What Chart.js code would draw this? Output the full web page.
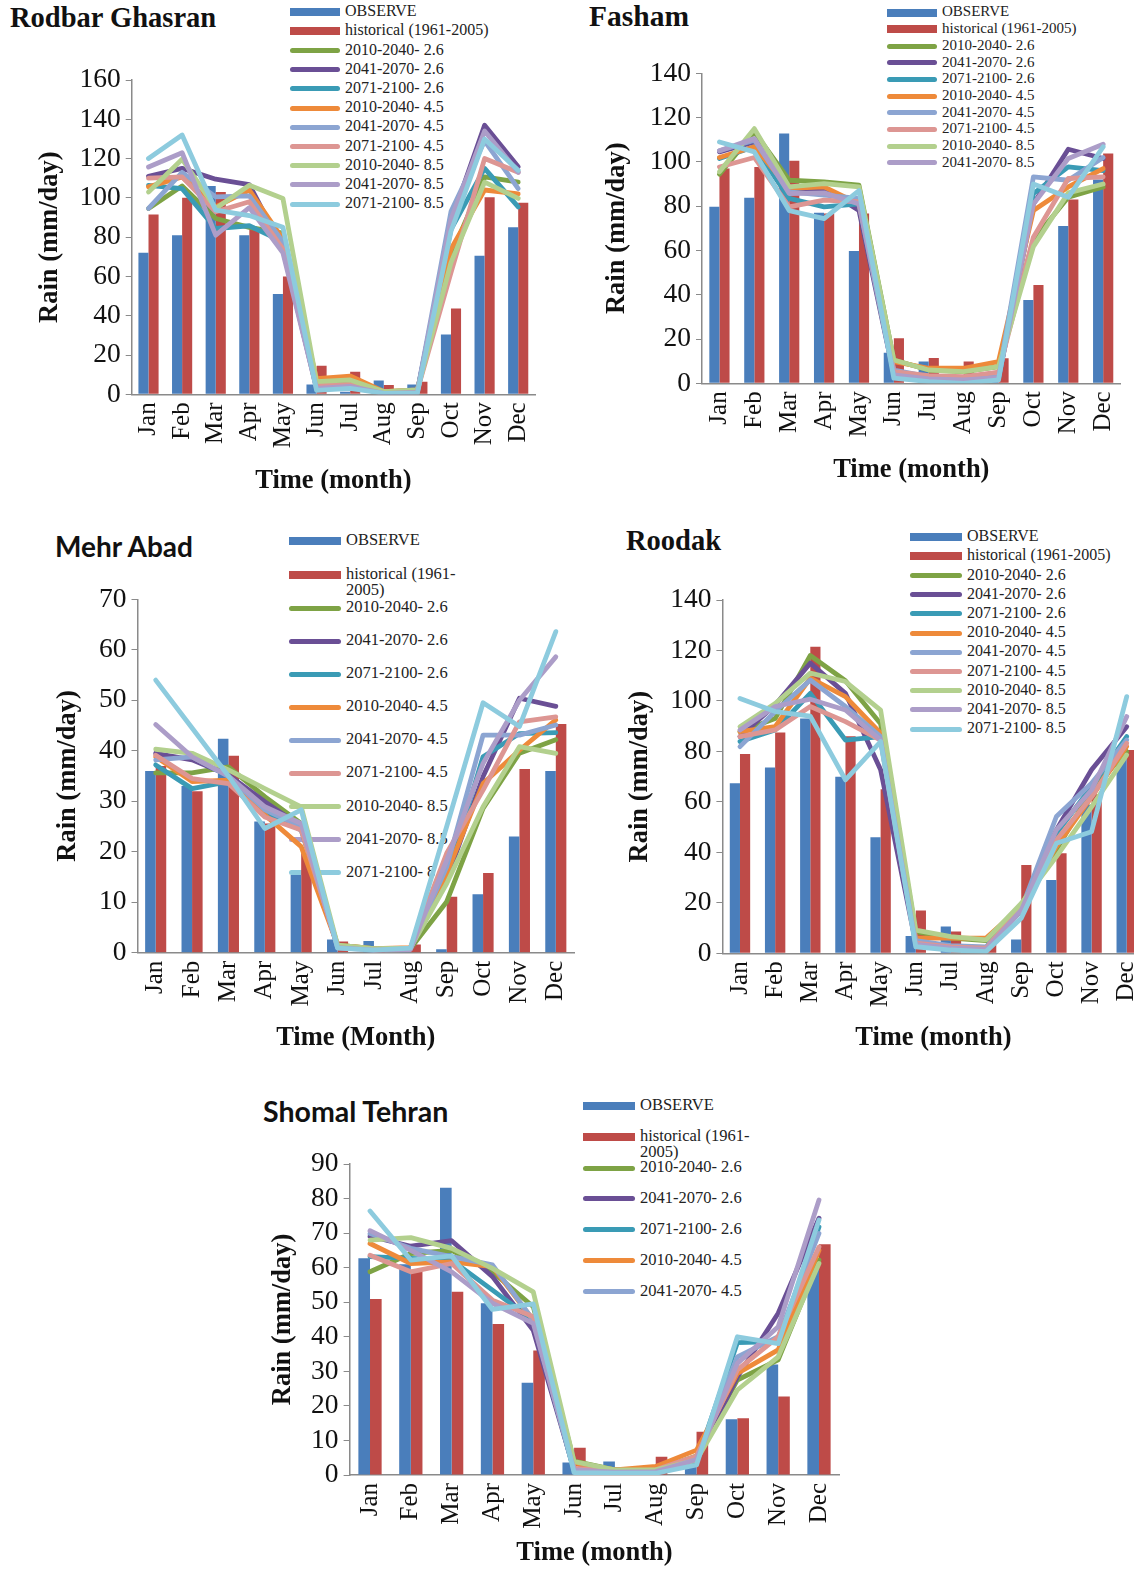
<!DOCTYPE html>
<html>
<head>
<meta charset="utf-8">
<script src="https://cdn.jsdelivr.net/npm/chart.js@4.4.1/dist/chart.umd.min.js"></script>
<style>
  html, body { margin: 0; padding: 0; background: #fff; }
  body { position: relative; width: 1134px; height: 1574px; overflow: hidden; }
  .ttl { position: absolute; font-weight: bold; line-height: 1; white-space: nowrap; color: #111; }
  .lg-sw { position: absolute; }
  .lg-tx { position: absolute; font-family: 'Liberation Serif', serif; color: #222; white-space: nowrap; }
  canvas { position: absolute; }
</style>
</head>
<body>
<script>
// ---- data ----
var months = ['Jan', 'Feb', 'Mar', 'Apr', 'May', 'Jun', 'Jul', 'Aug', 'Sep', 'Oct', 'Nov', 'Dec'];
var seriesNames = ['OBSERVE', 'historical (1961-2005)',
  '2010-2040- 2.6', '2041-2070- 2.6', '2071-2100- 2.6',
  '2010-2040- 4.5', '2041-2070- 4.5', '2071-2100- 4.5',
  '2010-2040- 8.5', '2041-2070- 8.5', '2071-2100- 8.5'];

// Rodbar Ghasran
var rodbarObs  = [72, 81, 106, 81, 51, 5, 1.3, 7, 5, 30.5, 70.5, 85];
var rodbarHist = [91.5, 100, 103, 84.5, 60, 14.5, 11.5, 4.7, 6.4, 43.7, 100.3, 97.5];
var rodbarProj = [
  [94.6, 106, 89.5, 85, 82, 5.6, 5.6, 1.4, 2, 71, 110.7, 108],
  [111, 115, 109.5, 106.8, 74, 3, 3.5, 1, 1.5, 88, 137, 115.8],
  [106.4, 104.7, 84.4, 85.8, 77.6, 4, 4, 1, 1.5, 84, 115, 95.4],
  [105.6, 110.7, 95.4, 104, 79, 8, 9.3, 1.4, 2.2, 74, 104, 102],
  [94.6, 113, 100.5, 101, 77.6, 4, 4.5, 1, 1.5, 93, 129, 104.7],
  [110, 110.7, 92.9, 98, 74, 4.5, 5, 1.2, 2, 62, 120, 113],
  [103, 119.7, 94.6, 106.4, 99.7, 6.4, 7.3, 1.4, 2.2, 67, 108, 99.7],
  [115.7, 123, 81, 95, 72, 3, 4, 0.5, 1, 89, 134, 113],
  [120, 132, 93.7, 91, 85, 2, 3, 0.5, 0.5, 83, 130, 114]
];

// Fasham
var fashamObs  = [79.7, 83.8, 112.8, 77, 59.7, 13.8, 9.8, 0.8, 1, 37.6, 71, 92];
var fashamHist = [97, 97.7, 100.5, 76.7, 76.7, 20.3, 11.4, 9.8, 11.3, 44.4, 83, 103.8];
var fashamProj = [
  [94.4, 113.5, 91.7, 91, 89.5, 10.5, 6, 5.3, 7.5, 64.7, 84, 88.7],
  [104.5, 109, 87, 88, 78, 3.8, 2, 1.5, 2, 81, 105.7, 101.5],
  [101.5, 106.8, 83.5, 79.7, 81, 4, 2, 1.5, 2, 85.7, 97.7, 96],
  [102, 106.8, 88, 88.7, 81, 9.8, 6.8, 6.8, 9.8, 78, 88.7, 97],
  [105, 109.8, 86.5, 85, 83.5, 6, 3, 2.5, 3, 93.2, 91.7, 102],
  [97.7, 102, 79.7, 82.7, 82, 5.3, 3.5, 3, 5, 66, 92.5, 93.2],
  [95.5, 115, 88.7, 90.2, 88.7, 10.5, 6, 5.3, 7.5, 61.7, 86, 90],
  [105, 110.5, 85.7, 86, 81, 3.8, 2, 1.5, 2.5, 81, 101.5, 108],
  [109, 104.5, 78, 74.4, 87, 2.3, 0.8, 0, 1.5, 90, 84, 106.8]
];

// Mehr Abad
var mehrObs  = [36, 33, 42.4, 26, 15.4, 2.6, 2.3, 0.2, 0.7, 11.6, 23, 36];
var mehrHist = [37, 32, 39, 25.6, 19.7, 2.2, 0.5, 1.6, 11.1, 15.8, 36.4, 45.3];
var mehrProj = [
  [35.6, 35.6, 36.8, 30.9, 25.6, 1.5, 0.8, 0.8, 10.1, 28.6, 39.5, 42.2],
  [39.5, 38.2, 35.2, 29.9, 25, 1.2, 0.6, 0.8, 14.4, 34.9, 50.4, 48.8],
  [37.2, 32.5, 33.9, 27.9, 24.3, 1.2, 0.6, 0.8, 15, 38.8, 43.4, 43.6],
  [38.8, 33.9, 34.2, 27.3, 21, 1.5, 0.8, 1, 15.7, 33.5, 40.1, 46.1],
  [38.2, 38.8, 34.9, 28.3, 25, 1.2, 0.6, 0.8, 17, 43.1, 43.1, 45.1],
  [39.1, 34.5, 33.5, 26.9, 24.3, 1.4, 0.7, 0.9, 19.7, 32.2, 45.7, 46.7],
  [40.3, 39.5, 36.2, 32.5, 28.9, 1.5, 0.8, 0.9, 13.7, 28.9, 40.8, 39.5],
  [45.2, 38.8, 35, 28.9, 25.6, 1, 0.5, 0.6, 18.3, 37.5, 50, 58.6],
  [54, 44.5, 35, 24.6, 28.3, 0.9, 0.5, 0.9, 25, 49.5, 44.8, 63.6]
];

// Roodak
var roodakObs  = [67.4, 73.6, 93, 70, 46, 6.9, 10.6, 0.5, 5.5, 29, 59, 80];
var roodakHist = [79, 87.5, 121.5, 86, 65, 17, 8.6, 5.5, 35, 39.6, 63, 80.6];
var roodakProj = [
  [87.8, 93, 118, 108, 91, 8.6, 6, 5, 19, 41, 64.7, 80],
  [85.9, 98.4, 115, 103, 72.7, 4, 2.5, 2, 17, 48.9, 72.7, 89.8],
  [83.9, 88.5, 103, 84.5, 85.9, 4, 2.5, 2, 17, 47.6, 66, 85.9],
  [87.8, 89.8, 109, 101.7, 87.2, 6, 6, 6, 18.5, 42.3, 62, 82],
  [81.9, 95.8, 108.3, 97.8, 85.9, 5, 3, 2.5, 17.5, 54.2, 67.4, 84.5],
  [85.9, 88.5, 97.8, 91.8, 84.5, 4, 2.5, 2, 18, 44.9, 62, 83.2],
  [89.8, 99, 111, 107.7, 96.4, 9.2, 6.6, 5.3, 19.8, 38.3, 58, 78.6],
  [88.5, 97.8, 100.7, 96.4, 84.5, 3.5, 2, 1.5, 17, 48.9, 64.7, 93.8],
  [101, 95.8, 94, 68.7, 83.9, 2.6, 1.3, 0.7, 13.9, 43.6, 48.2, 101.7]
];

// Shomal Tehran
var shomalObs  = [62.7, 61, 83.1, 49.7, 26.7, 3.6, 3.9, 2.9, 2.4, 16.1, 32, 60];
var shomalHist = [50.9, 58.8, 53, 43.7, 36, 7.9, 2.2, 5.3, 12.5, 16.4, 22.7, 66.8];
var shomalProj = [
  [58.8, 64.1, 65, 58.8, 48.7, 4, 1.5, 1.5, 5.5, 27.5, 33.3, 62.2],
  [69.1, 66.2, 67.8, 57.4, 41.9, 1.5, 0.8, 1, 4.5, 28.4, 46.8, 74.3],
  [63.2, 62.7, 62.2, 53.5, 44.8, 1, 0.5, 0.8, 4, 38.3, 38.6, 71.8],
  [67, 61.2, 61.7, 60.3, 44.8, 3.5, 1.5, 2.5, 7.2, 29.4, 36.2, 65],
  [69.9, 65.6, 63.2, 60.8, 44.8, 1.5, 0.8, 1, 4.5, 34.2, 40, 69.9],
  [63.6, 58.8, 61.2, 50.6, 45.8, 2, 1, 1.5, 5.5, 30.4, 40, 66],
  [68, 68.7, 65.6, 59.8, 53, 3.9, 1.5, 1.5, 4.3, 24.6, 34.2, 61.2],
  [70.7, 65, 58.8, 49.7, 43.9, 1.5, 0.8, 1, 4.5, 32.3, 42.9, 79.6],
  [76.4, 62.2, 63.4, 47.9, 49.5, 0.7, 0.5, 0.5, 2.9, 40, 38, 73.8]
];

// ---- styles ----
var barColors = ['#4A7EBB', '#BE4B48'];
var lineColors = ['#7EA345', '#6A4F95', '#3A9BB5', '#EE8A3A', '#8CA5D2', '#DD9693', '#B3D08E', '#AC9DC8', '#8DCBDE'];
var AX_FS = 26.5;   // axis title font size
var SERIF = "'Liberation Serif', 'Times New Roman', serif";

var panels = [
  { title: 'Rodbar Ghasran', tFont: SERIF, tSize: 28.5, tx: 10, ty: 20, obs: rodbarObs, hist: rodbarHist, proj: rodbarProj,
    L: 131.7, R: 535, T: 80, B: 394.3, yMax: 160, step: 20, yTitleX: 50, xTitleY: 481, xTitle: 'Time (month)', cat: 0.6,
    lg: { sx: 290, sw: 50, tx: 345, ys: rows(12, 31.2, 50.4, 19.2, 11), n: 11, fs: 16, wrap: false } },
  { title: 'Fasham', tFont: SERIF, tSize: 29.5, tx: 589, ty: 18, obs: fashamObs, hist: fashamHist, proj: fashamProj,
    L: 702, R: 1120.6, T: 73.3, B: 383.3, yMax: 140, step: 20, yTitleX: 617, xTitleY: 470, xTitle: 'Time (month)', cat: 0.58,
    lg: { sx: 887, sw: 50, tx: 942, ys: rows(12.7, 29.4, 46.1, 16.67, 10), n: 10, fs: 15, wrap: false } },
  { title: 'Mehr Abad', tFont: "Lato, 'Open Sans', sans-serif", tSize: 28, tx: 55, ty: 547, obs: mehrObs, hist: mehrHist, proj: mehrProj,
    L: 137.5, R: 574, T: 599.3, B: 952.7, yMax: 70, step: 10, yTitleX: 68, xTitleY: 1038, xTitle: 'Time (Month)', cat: 0.58,
    lg: { sx: 289, sw: 52, tx: 346, ys: rows(541, 575, 608, 33.1, 11), n: 11, fs: 16.5, wrap: true } },
  { title: 'Roodak', tFont: SERIF, tSize: 28.5, tx: 626, ty: 543, obs: roodakObs, hist: roodakHist, proj: roodakProj,
    L: 722.4, R: 1144.3, T: 600, B: 953.3, yMax: 140, step: 20, yTitleX: 640, xTitleY: 1038, xTitle: 'Time (month)', cat: 0.58,
    lg: { sx: 910, sw: 52, tx: 967, ys: rows(537, 556.2, 575.4, 19.2, 11), n: 11, fs: 16, wrap: false } },
  { title: 'Shomal Tehran', tFont: "Lato, 'Open Sans', sans-serif", tSize: 28.5, tx: 263, ty: 1113, obs: shomalObs, hist: shomalHist, proj: shomalProj,
    L: 349.6, R: 839.4, T: 1164, B: 1475, yMax: 90, step: 10, yTitleX: 283, xTitleY: 1553, xTitle: 'Time (month)', cat: 0.57,
    lg: { sx: 583, sw: 52, tx: 640, ys: rows(1106, 1137, 1168, 30.9, 7), n: 7, fs: 16.5, wrap: true } }
];

function rows(y0, y1, y2, dy, n) {
  var out = [y0, y1];
  for (var i = 2; i < n; i++) out.push(y2 + (i - 2) * dy);
  return out;
}

function addDiv(cls, css, text) {
  var d = document.createElement('div');
  d.className = cls;
  Object.assign(d.style, css);
  if (text !== undefined) d.textContent = text;
  document.body.appendChild(d);
  return d;
}

function drawLegend(p) {
  var lg = p.lg;
  for (var i = 0; i < lg.n; i++) {
    var y = lg.ys[i];
    var isBar = i < 2;
    var h = isBar ? 8 : 5;
    addDiv('lg-sw', {
      left: lg.sx + 'px', top: (y - h / 2) + 'px', width: lg.sw + 'px', height: h + 'px',
      background: isBar ? barColors[i] : lineColors[i - 2], borderRadius: isBar ? '0' : '3px'
    });
    var t = addDiv('lg-tx', {
      left: lg.tx + 'px', top: (y - lg.fs * 0.55) + 'px', fontSize: lg.fs + 'px', lineHeight: lg.fs + 'px'
    });
    if (i === 1 && lg.wrap) {
      var parts = seriesNames[1].split('1961-');
      t.appendChild(document.createTextNode(parts[0] + '1961-'));
      t.appendChild(document.createElement('br'));
      t.appendChild(document.createTextNode(parts[1]));
    } else {
      t.textContent = seriesNames[i];
    }
  }
}

function drawPanel(p) {
  addDiv('ttl', { left: p.tx + 'px', top: (p.ty - p.tSize * 0.55) + 'px', fontSize: p.tSize + 'px', fontFamily: p.tFont }, p.title);
  drawLegend(p);

  var cx = Math.round(p.yTitleX - 0.6 * AX_FS);
  var cy = Math.round(p.T - 30);
  var cw = Math.round(p.R - cx + 30);
  var ch = Math.round(p.xTitleY + 0.6 * AX_FS - cy);
  var cv = document.createElement('canvas');
  cv.width = cw; cv.height = ch;
  cv.style.left = cx + 'px'; cv.style.top = cy + 'px';
  document.body.appendChild(cv);

  var datasets = [
    { type: 'bar', label: seriesNames[0], data: p.obs, backgroundColor: barColors[0], order: 20 },
    { type: 'bar', label: seriesNames[1], data: p.hist, backgroundColor: barColors[1], order: 20 }
  ];
  p.proj.forEach(function (vals, k) {
    datasets.push({
      type: 'line', label: seriesNames[k + 2], data: vals,
      borderColor: lineColors[k], backgroundColor: lineColors[k],
      borderWidth: 4.8, pointRadius: 0, tension: 0,
      borderJoinStyle: 'round', borderCapStyle: 'round', order: 12 - k
    });
  });

  new Chart(cv, {
    type: 'bar',
    data: { labels: months, datasets: datasets },
    options: {
      responsive: false, animation: false, devicePixelRatio: 1,
      layout: { padding: { left: 0, top: p.T - cy, right: cx + cw - p.R, bottom: 0 } },
      datasets: { bar: { categoryPercentage: p.cat, barPercentage: 1.0 } },
      plugins: { legend: { display: false }, tooltip: { enabled: false } },
      scales: {
        x: {
          grid: { display: true, drawOnChartArea: false, drawTicks: false },
          border: { display: true, color: '#8a8a8a', width: 1.5 },
          ticks: { autoSkip: false, minRotation: 90, maxRotation: 90, padding: 8, color: '#111',
                   font: { family: SERIF, size: 25 } },
          title: { display: true, text: p.xTitle, color: '#111', padding: 0,
                   font: { family: SERIF, size: AX_FS, weight: 'bold', lineHeight: 1.2 } },
          afterFit: function (s) { s.height = cy + ch - p.B; }
        },
        y: {
          min: 0, max: p.yMax,
          grid: { display: true, drawOnChartArea: false, drawTicks: true, tickLength: 6, color: '#8a8a8a' },
          border: { display: true, color: '#8a8a8a', width: 1.5 },
          ticks: { stepSize: p.step, autoSkip: false, padding: 5, color: '#111', font: { family: SERIF, size: 27.5 } },
          title: { display: true, text: 'Rain (mm/day)', color: '#111', padding: 0,
                   font: { family: SERIF, size: AX_FS, weight: 'bold', lineHeight: 1.2 } },
          afterFit: function (s) { s.width = p.L - cx; }
        }
      }
    }
  });
}

panels.forEach(drawPanel);
</script>
</body>
</html>
